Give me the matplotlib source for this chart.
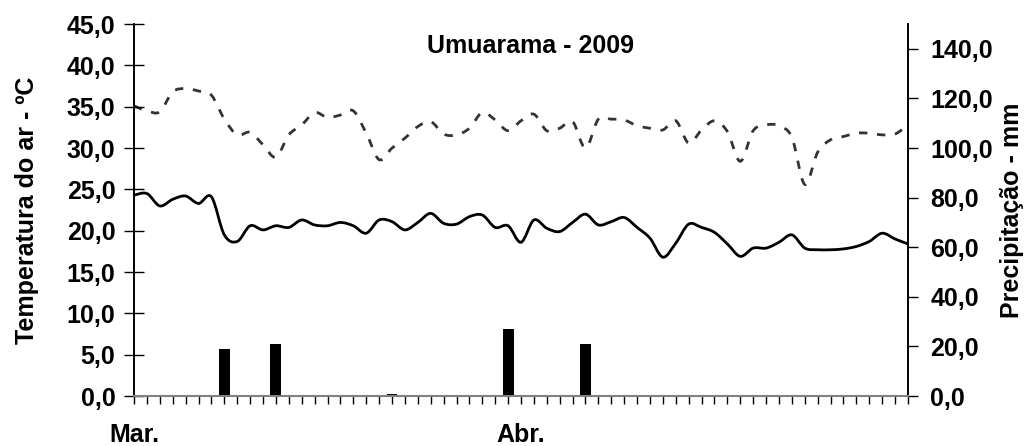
import matplotlib
matplotlib.use("Agg")
import matplotlib.pyplot as plt
from matplotlib.ticker import FuncFormatter, MultipleLocator
from matplotlib.path import Path
from matplotlib.patches import PathPatch
import numpy as np

# Days from 1 March (index 0) to 30 April (index 60)
days = list(range(61))

temp_max = [35.1, 34.5, 34.4, 36.8, 37.2, 36.9, 36.4, 33.5, 31.6, 31.9,
            30.4, 28.9, 31.6, 32.8, 34.3, 33.7, 34.0, 34.5, 31.8, 28.6,
            30.0, 31.2, 32.6, 33.2, 31.7, 31.6, 32.4, 34.3, 33.4, 32.1,
            33.3, 34.1, 32.1, 32.4, 33.2, 30.0, 33.5, 33.5, 33.4, 32.7,
            32.4, 32.2, 33.3, 30.6, 32.2, 33.3, 32.0, 28.4, 32.1, 32.8,
            32.7, 31.3, 25.6, 29.5, 31.0, 31.4, 31.8, 31.8, 31.6, 31.7,
            32.8]

temp_min = [24.3, 24.5, 23.0, 23.8, 24.2, 23.3, 24.1, 19.5, 18.7, 20.6,
            20.1, 20.6, 20.4, 21.3, 20.7, 20.6, 21.0, 20.6, 19.7, 21.3,
            21.1, 20.1, 21.0, 22.1, 20.9, 20.8, 21.7, 21.9, 20.4, 20.6,
            18.6, 21.3, 20.3, 19.9, 21.0, 22.0, 20.7, 21.1, 21.6, 20.4,
            19.1, 16.8, 18.5, 20.8, 20.4, 19.8, 18.4, 16.9, 17.9, 17.9,
            18.6, 19.5, 17.9, 17.7, 17.7, 17.8, 18.1, 18.7, 19.7, 19.0,
            18.4]

rain_days = [7, 11, 20, 29, 35]
rain_mm = [18.8, 21.0, 0.8, 27.0, 21.0]

month_pos = [0, 30]
month_labels = ["Mar.", "Abr."]

title = "Umuarama - 2009"
ylabel_left = "Temperatura do ar - ºC"
ylabel_right = "Precipitação - mm"


def smooth_path(xs, ys):
    """Excel-like smoothed line: cubic Bezier through every data point."""
    p = np.column_stack([xs, ys]).astype(float)
    n = len(p)
    verts = [p[0]]
    codes = [Path.MOVETO]
    for i in range(n - 1):
        p0 = p[i - 1] if i > 0 else p[i]
        p1 = p[i]
        p2 = p[i + 1]
        p3 = p[i + 2] if i + 2 < n else p[i + 1]
        c1 = p1 + (p2 - p0) / 6.0
        c2 = p2 - (p3 - p1) / 6.0
        verts += [c1, c2, p2]
        codes += [Path.CURVE4] * 3
    return Path(verts, codes)


plt.rcParams['font.family'] = ['Liberation Sans', 'DejaVu Sans']
plt.rcParams['font.weight'] = 'bold'

FS = 18

fig = plt.figure(figsize=(10.27, 4.46), dpi=100)
ax = fig.add_axes([0.1305, 0.112, 0.7536, 0.834])
ax2 = ax.twinx()

# precipitation bars on right axis
ax2.bar(rain_days, rain_mm, width=0.85, color='black', zorder=2)
ax2.set_ylim(0, 150)
ax2.yaxis.set_major_locator(MultipleLocator(20))
ax2.yaxis.set_major_formatter(FuncFormatter(lambda v, p: f"{v:.1f}".replace('.', ',') if v <= 140 else ""))

# temperatures on left axis (smoothed lines)
ax.set_zorder(ax2.get_zorder() + 1)
ax.patch.set_visible(False)
ax.add_patch(PathPatch(smooth_path(days, temp_max), fill=False, edgecolor='#333333',
                       lw=2.0, linestyle=(0, (3, 3.5))))
ax.add_patch(PathPatch(smooth_path(days, temp_min), fill=False, edgecolor='black', lw=2.0))
ax.set_ylim(0, 45)
ax.set_xlim(0, 60)
ax.yaxis.set_major_locator(MultipleLocator(5))
ax.yaxis.set_major_formatter(FuncFormatter(lambda v, p: f"{v:.1f}".replace('.', ',')))

# x ticks: one per day, labels for months
ax.set_xticks(days)
ax.set_xticklabels([])
ax.tick_params(axis='x', direction='out', length=6, width=1, color='black')
for pos, lab in zip(month_pos, month_labels):
    ax.text(pos, -0.073, lab, transform=ax.get_xaxis_transform(), ha='center', va='top',
            fontsize=FS, fontweight='bold')

ax.tick_params(axis='y', direction='inout', length=15, width=1, labelsize=FS, pad=6)
ax2.tick_params(axis='y', direction='out', length=7, width=1, labelsize=FS, pad=9)

for a in (ax, ax2):
    a.spines['top'].set_visible(False)
    a.spines['left'].set_linewidth(1.2)
    a.spines['right'].set_linewidth(1.2)
ax.spines['bottom'].set_color('#808080')
ax.spines['bottom'].set_linewidth(1.5)
ax2.spines['bottom'].set_visible(False)

ax.set_ylabel(ylabel_left, fontsize=FS, fontweight='bold', labelpad=20)
ax2.set_ylabel(ylabel_right, fontsize=FS, fontweight='bold', labelpad=5)

ax.text(0.512, 0.94, title, transform=ax.transAxes, ha='center', va='center',
        fontsize=FS, fontweight='bold')

fig.savefig("out.png", dpi=100)
